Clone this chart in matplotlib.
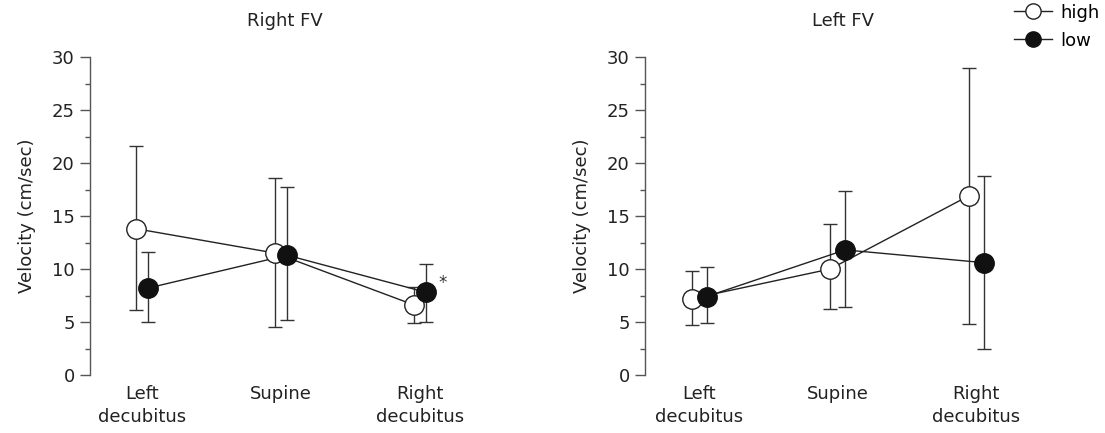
import matplotlib
matplotlib.use("Agg")
import matplotlib.pyplot as plt
import numpy as np
from matplotlib.ticker import MultipleLocator
from matplotlib.lines import Line2D

plt.rcParams['font.family'] = ['DejaVu Sans']

categories = ["Left\ndecubitus", "Supine", "Right\ndecubitus"]

# Right FV
right_high = [13.8, 11.5, 6.6]
right_high_lo = [6.1, 4.5, 4.9]
right_high_hi = [21.6, 18.6, 8.3]
right_low = [8.2, 11.3, 7.8]
right_low_lo = [5.0, 5.2, 5.0]
right_low_hi = [11.6, 17.7, 10.5]

# Left FV
left_high = [7.2, 10.0, 16.9]
left_high_lo = [4.7, 6.2, 4.8]
left_high_hi = [9.8, 14.2, 29.0]
left_low = [7.4, 11.8, 10.6]
left_low_lo = [4.9, 6.4, 2.5]
left_low_hi = [10.2, 17.4, 18.8]

W, H = 1105, 433
fig = plt.figure(figsize=(W / 100, H / 100), dpi=100)

def px_axes(x0, x1, y_top, y_bot):
    return fig.add_axes([x0 / W, 1 - y_bot / H, (x1 - x0) / W, (y_bot - y_top) / H])

spine_col = "#555555"
err_col = "#333333"
txt_col = "#222222"
FS = 13

def draw(ax, title, hv, hl, hh, lv, ll, lh, off, xlo, xhi):
    x = np.arange(len(categories))
    xh = x - off
    xl = x + off
    ax.errorbar(xh, hv, yerr=[np.array(hv) - np.array(hl), np.array(hh) - np.array(hv)],
                fmt='none', ecolor=err_col, elinewidth=1.0, capsize=5, capthick=1.0, zorder=1)
    ax.errorbar(xl, lv, yerr=[np.array(lv) - np.array(ll), np.array(lh) - np.array(lv)],
                fmt='none', ecolor=err_col, elinewidth=1.0, capsize=5, capthick=1.0, zorder=1)
    ax.plot(xh, hv, '-', color='#222222', lw=1.0, zorder=2)
    ax.plot(xl, lv, '-', color='#222222', lw=1.0, zorder=2)
    ax.plot(xh, hv, 'o', ms=14, mfc='white', mec='#222222', mew=1.0, zorder=3)
    ax.plot(xl, lv, 'o', ms=14, mfc='#111111', mec='#111111', mew=1.0, zorder=4)
    ax.set_xlim(xlo, xhi)
    ax.set_ylim(0, 30)
    for s in ['top', 'right', 'bottom']:
        ax.spines[s].set_visible(False)
    ax.spines['left'].set_color(spine_col)
    ax.spines['left'].set_linewidth(1.0)
    ax.spines['left'].set_bounds(0, 30)
    ax.yaxis.set_major_locator(MultipleLocator(5))
    ax.yaxis.set_minor_locator(MultipleLocator(2.5))
    ax.tick_params(axis='y', which='major', length=7, width=1.0, color=spine_col,
                   labelsize=FS, pad=4, labelcolor=txt_col)
    ax.tick_params(axis='y', which='minor', length=3.5, width=1.0, color=spine_col)
    ax.set_xticks(x)
    ax.set_xticklabels(categories, fontsize=FS, color=txt_col, linespacing=1.4)
    ax.tick_params(axis='x', length=0, pad=7)
    ax.set_ylabel("Velocity (cm/sec)", fontsize=FS, color=txt_col, labelpad=11)
    ax.set_title(title, fontsize=FS, color=txt_col, pad=22)
    ax.patch.set_alpha(0)

ax1 = px_axes(90, 480, 57, 375)
draw(ax1, "Right FV", right_high, right_high_lo, right_high_hi,
     right_low, right_low_lo, right_low_hi, 0.043, -0.374, 2.43)
ax1.annotate("*", xy=(2 + 0.043, right_low[2]), xytext=(9, 7), textcoords='offset points',
             fontsize=12, color='#333333', ha='left', va='center')

ax2 = px_axes(645, 1040, 57, 375)
draw(ax2, "Left FV", left_high, left_high_lo, left_high_hi,
     left_low, left_low_lo, left_low_hi, 0.054, -0.39, 2.46)

handles = [
    Line2D([0], [0], color='#222222', lw=1.0, marker='o', ms=11, mfc='white', mec='#222222'),
    Line2D([0], [0], color='#222222', lw=1.0, marker='o', ms=11, mfc='#111111', mec='#111111'),
]
fig.legend(handles, ["high", "low"], loc='upper left', bbox_to_anchor=(1001 / W, 1 + 9 / H),
           frameon=False, fontsize=FS, handlelength=2.1, handletextpad=0.5,
           labelspacing=0.55, borderpad=0.2)

fig.savefig("out.png", dpi=100)
